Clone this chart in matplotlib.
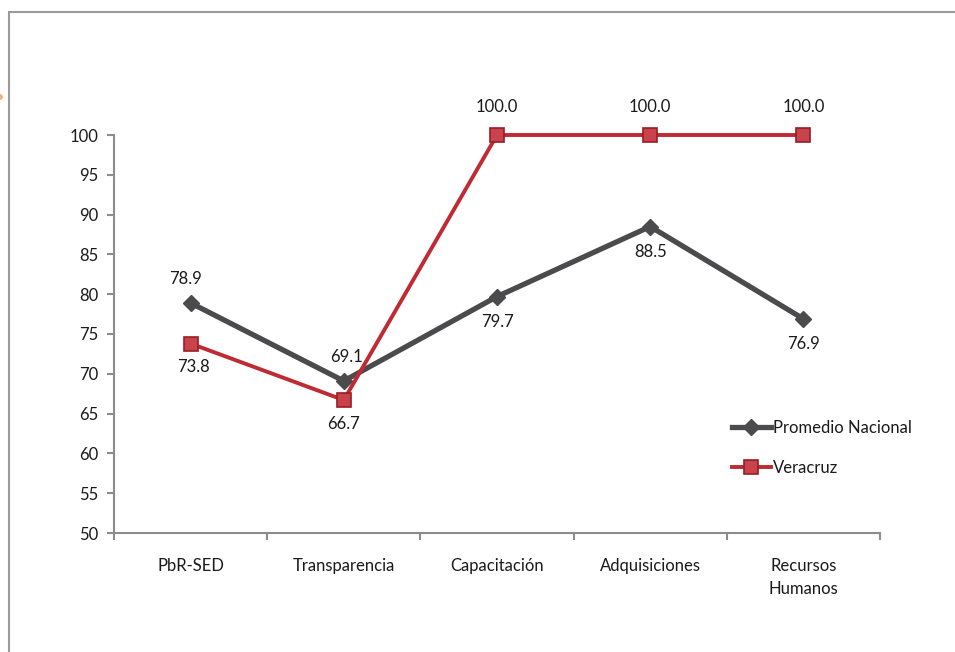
import matplotlib
matplotlib.use("Agg")
import matplotlib.pyplot as plt
from matplotlib.patches import Rectangle, Circle
import numpy as np

categories = ["PbR-SED", "Transparencia", "Capacitación", "Adquisiciones", "Recursos\nHumanos"]
promedio = [78.9, 69.1, 79.7, 88.5, 76.9]
veracruz = [73.8, 66.7, 100.0, 100.0, 100.0]
yticks = [50, 55, 60, 65, 70, 75, 80, 85, 90, 95, 100]

plt.rcParams['font.family'] = ['Lato', 'DejaVu Sans']

fig = plt.figure(figsize=(9.55, 6.52), dpi=100)
W, H = 955, 652
ax = fig.add_axes([114 / W, 1 - 533 / H, (880 - 114) / W, (533 - 135) / H])

x = np.arange(len(categories))
grey = "#4b4b4d"
red = "#c02a32"
FS = 12
TC = "#1a1a1a"
ax.plot(x, promedio, color=grey, lw=3.8, marker="D", ms=8.5, mfc=grey, mec=grey,
        label="Promedio Nacional", zorder=3, clip_on=False)
ax.plot(x, veracruz, color=red, lw=2.8, marker="s", ms=10.5, mfc="#c8434b", mec="#9a1c24",
        mew=1.2, label="Veracruz", zorder=4, clip_on=False)

# data labels
prom_off = [1, 1, -1, -1, -1]
vera_off = [-1, -1, 1, 1, 1]
for xi, v, o in zip(x, promedio, prom_off):
    dy = 17 if o > 0 else -18
    ax.annotate(f"{v:.1f}", (xi, v), xytext=(-4 if xi == 0 else (0 if xi != 1 else 2), dy),
                textcoords="offset points", ha="center", va="center", fontsize=FS, color=TC)
for xi, v, o in zip(x, veracruz, vera_off):
    dy = 20 if o > 0 else -17
    ax.annotate(f"{v:.1f}", (xi, v), xytext=(0 if xi != 0 else 2, dy),
                textcoords="offset points", ha="center", va="center", fontsize=FS, color=TC)

ax.set_xlim(-0.5, len(categories) - 0.5)
ax.set_ylim(50, 100)
ax.set_yticks(yticks)
ax.set_xticks(x)
ax.set_xticklabels(categories, fontsize=FS, color=TC, linespacing=1.55)
ax.set_xticks(np.arange(-0.5, len(categories), 1.0), minor=True)
ax.tick_params(axis="x", which="major", length=0, pad=18)
ax.tick_params(axis="x", which="minor", length=5, width=1.5, color="#8c8c8c", direction="out")
ax.tick_params(axis="y", length=5, width=1.5, color="#8c8c8c", labelsize=FS, labelcolor=TC, pad=6)
for s in ["top", "right"]:
    ax.spines[s].set_visible(False)
for s in ["left", "bottom"]:
    ax.spines[s].set_color("#8c8c8c")
    ax.spines[s].set_linewidth(1.5)

leg = ax.legend(loc="upper left", bbox_to_anchor=((725 - 114) / (880 - 114), (533 - 413) / (533 - 135)),
                frameon=False, fontsize=FS, handlelength=2.35, handletextpad=0.1,
                labelspacing=1.45, borderaxespad=0)
for t in leg.get_texts():
    t.set_color(TC)

# outer frame
fig.patches.append(Rectangle((8.5 / W, -0.1), 1.2, 1 - 12 / H + 0.1, transform=fig.transFigure,
                             fill=False, ec="#9a9a9a", lw=1.5))
fig.patches.append(Circle((-2 / W, 1 - 97 / H), 5 / W, transform=fig.transFigure,
                          fill=True, fc="#f5b07a", ec="none"))

fig.savefig("out.png", dpi=100)
